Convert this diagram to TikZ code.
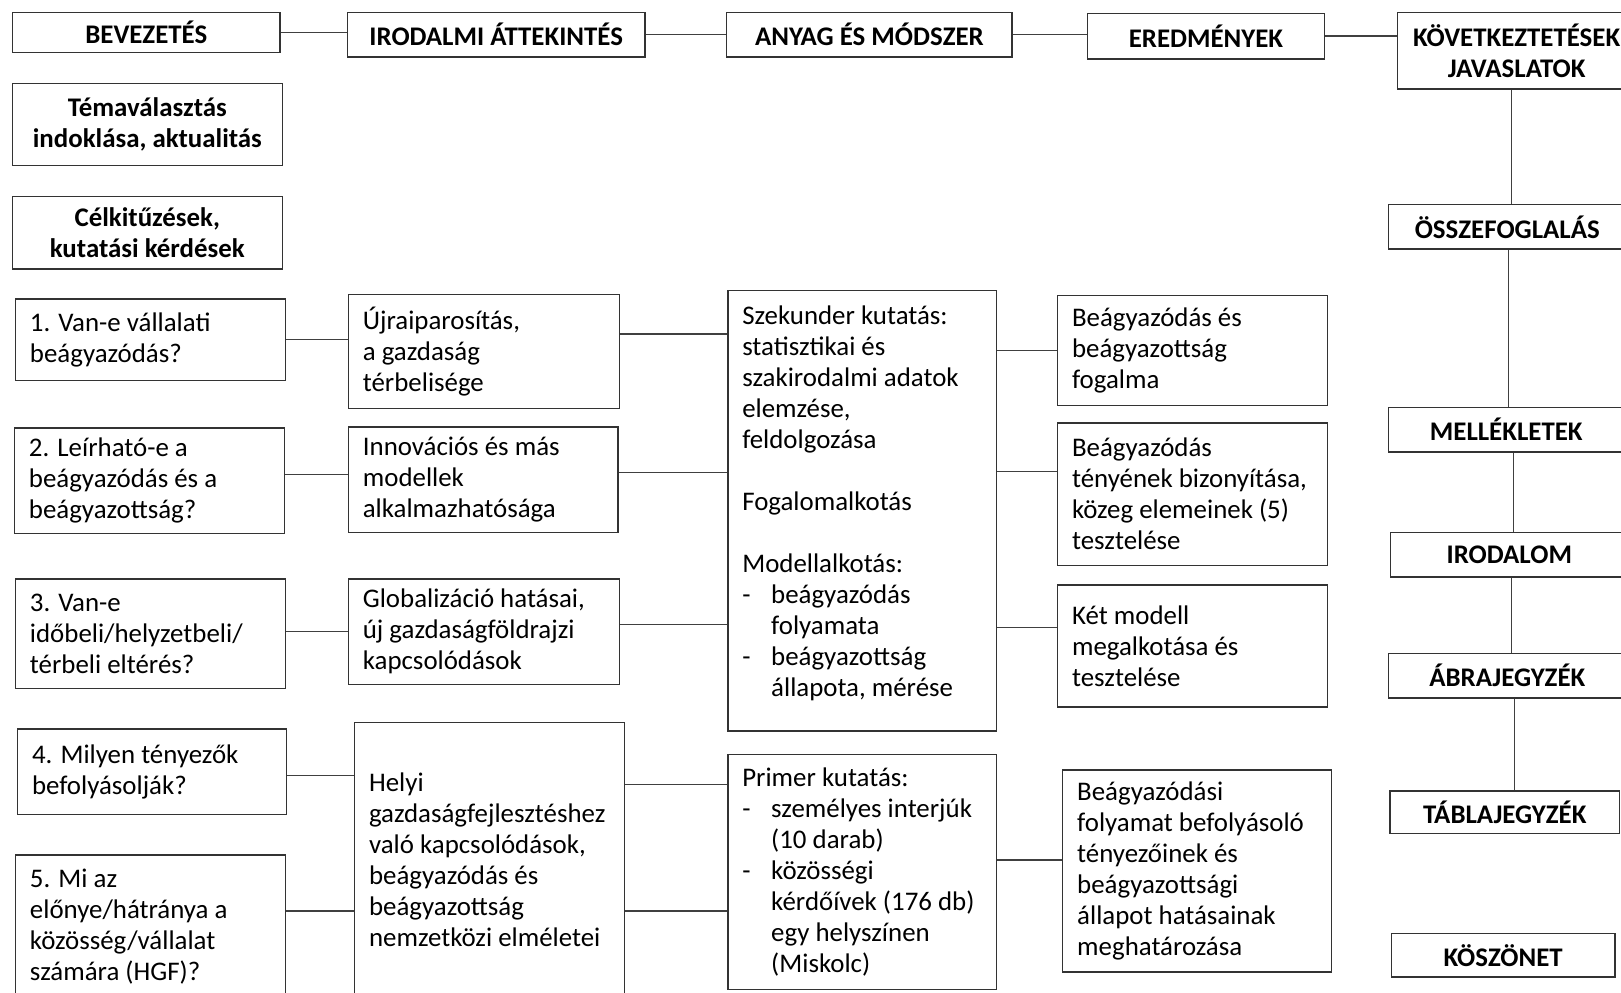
\documentclass[tikz,border=0pt]{standalone}
\usepackage{fontspec}
\setmainfont{Carlito}
\newcommand{\dsh}{\makebox[14pt][l]{-}}
\newcommand{\ind}{\hspace*{14pt}}

\tikzset{
    box/.style={draw=black!80, line width=0.7pt, inner ysep=3pt, font=\fontsize{13}{15}\selectfont},
    head/.style={box, font=\bfseries\fontsize{13}{15}\selectfont, align=center},
    txt/.style={box, align=flush left, inner xsep=7pt, text width=#1},
    link/.style={draw=black!75, line width=0.7pt}
}

\begin{document}
\begin{tikzpicture}[x=0.5pt, y=-0.5pt]
    \useasboundingbox (0,0) rectangle (1568,960);
    \clip (0,0) rectangle (1568,960);

    % top row
    \node (bev) [head, minimum width=129.5pt, minimum height=19.5pt] at (141.5,31.5) {BEVEZETÉS};
    \node (irod) [head, minimum width=144pt, minimum height=21.5pt] at (480,33.5) {IRODALMI ÁTTEKINTÉS};
    \node (anyag) [head, minimum width=138pt, minimum height=21.5pt] at (841,33.5) {ANYAG ÉS MÓDSZER};
    \node (ered) [head, minimum width=114.5pt, minimum height=22pt] at (1166.5,35) {EREDMÉNYEK};
    \node (kov) [head, minimum width=115pt, minimum height=37pt] at (1467,49) {KÖVETKEZTETÉSEK\\JAVASLATOK};

    % bevezetes column
    \node (tema) [head, minimum width=130.5pt, minimum height=39.5pt] at (142.5,120.5) {Témaválasztás\\indoklása, aktualitás};
    \node (cel) [head, minimum width=130.5pt, minimum height=35pt] at (142.5,225) {Célkitűzések,\\kutatási kérdések};
    \node (q1) [txt=116.5pt, minimum height=39.5pt] at (145.5,328.5) {1. Van-e vállalati\\beágyazódás?};
    \node (q2) [txt=116.5pt, minimum height=51pt] at (144.5,465) {2. Leírható-e a\\beágyazódás és a\\beágyazottság?};
    \node (q3) [txt=116.5pt, minimum height=53pt] at (145.5,613) {3. Van-e\\időbeli/helyzetbeli/\\térbeli eltérés?};
    \node (q4) [txt=116pt, minimum height=41.5pt] at (147,746.5) {4. Milyen tényezők\\befolyásolják?};
    \node (q5) [txt=116.5pt, minimum height=69pt] at (145.5,896) {5. Mi az\\előnye/hátránya a\\közösség/vállalat\\számára (HGF)?};

    % irodalmi attekintes column
    \node (ujra) [txt=117pt, minimum height=55pt] at (468,340) {Újraiparosítás,\\a gazdaság\\térbelisége};
    \node (innov) [txt=116.5pt, minimum height=51pt] at (467.5,464) {Innovációs és más\\modellek\\alkalmazhatósága};
    \node (glob) [txt=117pt, minimum height=51pt] at (468,611) {Globalizáció hatásai,\\új gazdaságföldrajzi\\kapcsolódások};
    \node (helyi) [txt=116.5pt, minimum height=133pt] at (473.5,832) {Helyi\\gazdaságfejlesztéshez\\való kapcsolódások,\\beágyazódás és\\beágyazottság\\nemzetközi elméletei};

    % anyag es modszer column
    \node (szek) [txt=116pt, minimum height=213pt] at (834,494) {Szekunder kutatás:\\statisztikai és\\szakirodalmi adatok\\elemzése,\\feldolgozása\\[15pt]Fogalomalkotás\\[15pt]Modellalkotás:\\\dsh beágyazódás\\\ind folyamata\\\dsh beágyazottság\\\ind állapota, mérése\rule[-9.5pt]{0pt}{9.5pt}};
    \node (prim) [txt=116pt, minimum height=113.5pt] at (834,843.5) {Primer kutatás:\\\dsh személyes interjúk\\\ind (10 darab)\\\dsh közösségi\\\ind kérdőívek (176 db)\\\ind egy helyszínen\\\ind (Miskolc)};

    % eredmenyek column
    \node (fog) [txt=116.5pt, minimum height=53pt] at (1153.5,339) {Beágyazódás és\\beágyazottság\\fogalma};
    \node (bizony) [txt=116.5pt, minimum height=69pt] at (1153.5,478) {Beágyazódás\\tényének bizonyítása,\\közeg elemeinek (5)\\tesztelése};
    \node (modell) [txt=116.5pt, minimum height=59pt] at (1153.5,625) {Két modell\\megalkotása és\\tesztelése};
    \node (folyam) [txt=116pt, minimum height=97.5pt] at (1158,842.5) {Beágyazódási\\folyamat befolyásoló\\tényezőinek és\\beágyazottsági\\állapot hatásainak\\meghatározása};

    % right column
    \node (ossz) [head, minimum width=115pt, minimum height=21.5pt] at (1458,219.5) {ÖSSZEFOGLALÁS};
    \node (mell) [head, minimum width=114pt, minimum height=21.5pt] at (1457,415.5) {MELLÉKLETEK};
    \node (irodalom) [head, minimum width=115pt, minimum height=21.5pt] at (1460,536.5) {IRODALOM};
    \node (abra) [head, minimum width=115pt, minimum height=21.5pt] at (1458,653.5) {ÁBRAJEGYZÉK};
    \node (tabla) [head, minimum width=111pt, minimum height=20.5pt] at (1455.5,785.5) {TÁBLAJEGYZÉK};
    \node (kosz) [head, minimum width=108pt, minimum height=21pt] at (1454,924) {KÖSZÖNET};

    % top row links
    \draw [link] (bev.east) -- (bev.east -| irod.west);
    \draw [link] (irod.east) -- (irod.east -| anyag.west);
    \draw [link] (anyag.east) -- (anyag.east -| ered.west);
    \draw [link] (ered.east) -- (ered.east -| kov.west);

    % right column links
    \draw [link] ([xshift=2pt]ossz.north) -- ([xshift=2pt]ossz.north |- kov.south);
    \draw [link] ([xshift=1pt]mell.north) -- ([xshift=1pt]mell.north |- ossz.south);
    \draw [link] ([xshift=2pt]irodalom.north) -- ([xshift=2pt]irodalom.north |- mell.south);
    \draw [link] ([xshift=2pt]abra.north) -- ([xshift=2pt]abra.north |- irodalom.south);
    \draw [link] ([xshift=3.5pt]abra.south) -- ([xshift=3.5pt]abra.south |- tabla.north);

    % questions to literature
    \draw [link] (q1.east) -- (q1.east -| ujra.west);
    \draw [link] ([yshift=3pt]q2.east) -- ([yshift=3pt]q2.east -| innov.west);
    \draw [link] ([yshift=1pt]q3.east) -- ([yshift=1pt]q3.east -| glob.west);
    \draw [link] ([yshift=-1.75pt]q4.east) -- ([yshift=-1.75pt]q4.east -| helyi.west);
    \draw [link] ([yshift=7.5pt]q5.east) -- ([yshift=7.5pt]q5.east -| helyi.west);

    % literature to methods
    \draw [link] ([yshift=8.5pt]ujra.east) -- ([yshift=8.5pt]ujra.east -| szek.west);
    \draw [link] ([yshift=3.5pt]innov.east) -- ([yshift=3.5pt]innov.east -| szek.west);
    \draw [link] ([yshift=3.5pt]glob.east) -- ([yshift=3.5pt]glob.east -| szek.west);
    \draw [link] ([yshift=36.5pt]helyi.east) -- ([yshift=36.5pt]helyi.east -| prim.west);
    \draw [link] ([yshift=-24.5pt]helyi.east) -- ([yshift=-24.5pt]helyi.east -| prim.west);

    % methods to results
    \draw [link] (fog.west) -- (fog.west -| szek.east);
    \draw [link] ([yshift=11pt]bizony.west) -- ([yshift=11pt]bizony.west -| szek.east);
    \draw [link] ([yshift=9pt]modell.west) -- ([yshift=9pt]modell.west -| szek.east);
    \draw [link] ([yshift=5.25pt]folyam.west) -- ([yshift=5.25pt]folyam.west -| prim.east);
\end{tikzpicture}
\end{document}
